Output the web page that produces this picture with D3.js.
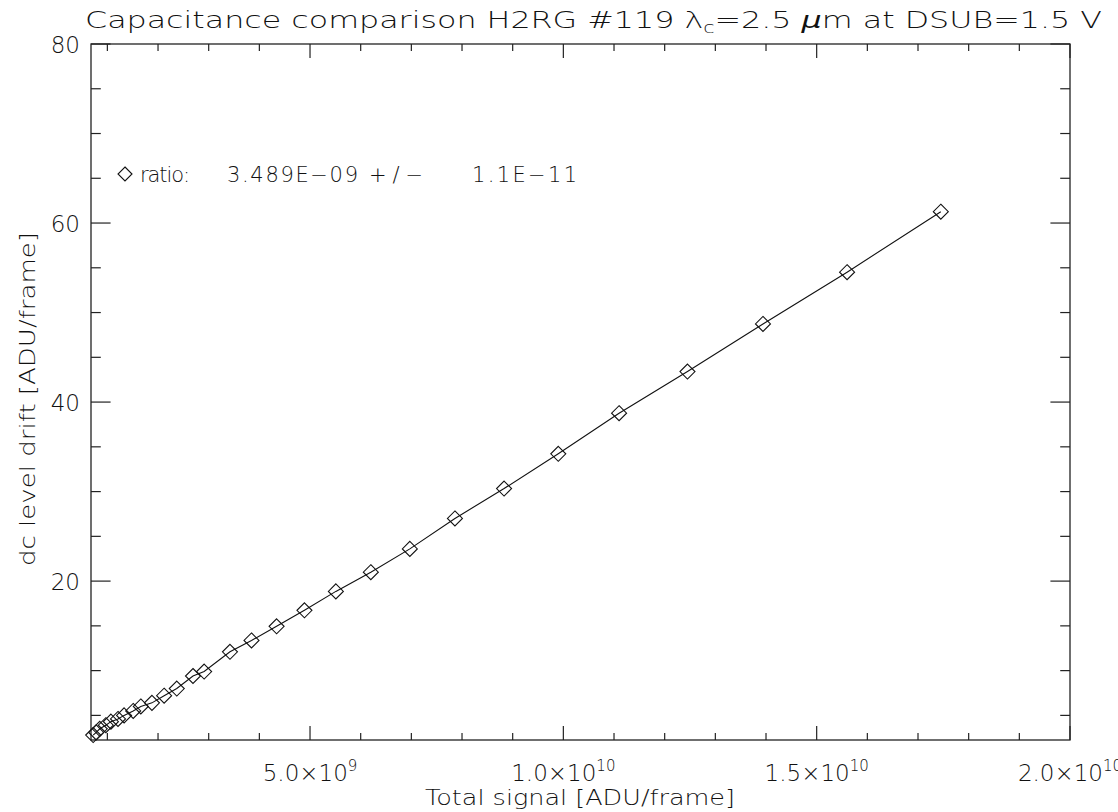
<!DOCTYPE html>
<html>
<head>
<meta charset="utf-8">
<script src="https://cdn.jsdelivr.net/npm/d3@7"></script>
<style>
  html, body { margin: 0; padding: 0; background: #fff; }
  svg { display: block; }
  text { font-family: "DejaVu Sans", Roboto, sans-serif; font-weight: 200; fill: #111; }
</style>
</head>
<body>
<svg id="chart" width="1118" height="812"></svg>
<script>
// Total signal per point [ADU/frame]
const totalSignal = [
  17.45e9, 15.60e9, 13.94e9, 12.45e9, 11.10e9, 9.90e9, 8.83e9, 7.86e9,
  6.97e9, 6.20e9, 5.51e9, 4.89e9, 4.34e9, 3.845e9, 3.42e9, 2.91e9,
  2.69e9, 2.37e9, 2.12e9, 1.88e9, 1.66e9, 1.51e9, 1.33e9, 1.21e9,
  1.07e9, 0.97e9, 0.85e9, 0.78e9, 0.72e9
];
// dc level drift per point [ADU/frame]
const dcDrift = [
  61.27, 54.51, 48.73, 43.41, 38.76, 34.22, 30.34, 27.0,
  23.6, 21.0, 18.85, 16.74, 14.95, 13.37, 12.1, 9.9,
  9.4, 8.0, 7.2, 6.4, 6.0, 5.5, 5.0, 4.6,
  4.3, 3.9, 3.5, 3.1, 2.8
];

const xRange = [0.677e9, 2.0e10];
const yRange = [2.25, 80];

const xMajorTicks = [5e9, 1e10, 1.5e10, 2e10];
const xMajorMantissa = ["5.0", "1.0", "1.5", "2.0"];
const xMajorExponent = ["9", "10", "10", "10"];
const xMinorTicks = [1e9, 2e9, 3e9, 4e9, 6e9, 7e9, 8e9, 9e9, 11e9, 12e9, 13e9, 14e9, 16e9, 17e9, 18e9, 19e9];

const yMajorTicks = [20, 40, 60, 80];
const yMinorTicks = [5, 10, 15, 25, 30, 35, 45, 50, 55, 65, 70, 75];

const ratioText = ["ratio:", "3.489E\u221209", "+/\u2212", "1.1E\u221211"];

const svg = d3.select("#chart");
const plot = { left: 91, right: 1070, top: 44, bottom: 740 };

const x = d3.scaleLinear().domain(xRange).range([plot.left, plot.right]);
const y = d3.scaleLinear().domain(yRange).range([plot.bottom, plot.top]);

const pw = plot.right - plot.left, ph = plot.bottom - plot.top;
const xTickLen = 0.02 * ph, yTickLen = 0.02 * pw;

// frame
svg.append("rect")
  .attr("x", plot.left).attr("y", plot.top)
  .attr("width", pw).attr("height", ph)
  .attr("fill", "none").attr("stroke", "#222").attr("stroke-width", 1.3);

const ticks = svg.append("g").attr("stroke", "#222").attr("stroke-width", 1.2);

// x ticks, bottom and top, pointing inward
function xTick(v, len) {
  ticks.append("line").attr("x1", x(v)).attr("x2", x(v))
    .attr("y1", plot.bottom).attr("y2", plot.bottom - len);
  ticks.append("line").attr("x1", x(v)).attr("x2", x(v))
    .attr("y1", plot.top).attr("y2", plot.top + len);
}
xMajorTicks.forEach(v => xTick(v, xTickLen));
xMinorTicks.forEach(v => xTick(v, xTickLen / 2));

// y ticks, left and right, pointing inward
function yTick(v, len) {
  ticks.append("line").attr("y1", y(v)).attr("y2", y(v))
    .attr("x1", plot.left).attr("x2", plot.left + len);
  ticks.append("line").attr("y1", y(v)).attr("y2", y(v))
    .attr("x1", plot.right).attr("x2", plot.right - len);
}
yMajorTicks.forEach(v => yTick(v, yTickLen));
yMinorTicks.forEach(v => yTick(v, yTickLen / 2));

// x tick labels in scientific notation
xMajorTicks.forEach((v, i) => {
  const t = svg.append("text")
    .attr("x", x(v)).attr("y", 781)
    .attr("text-anchor", "middle")
    .attr("font-size", 23);
  t.append("tspan").text(xMajorMantissa[i] + "\u00d710");
  t.append("tspan").attr("dy", -10).attr("font-size", 15).text(xMajorExponent[i]);
});

// y tick labels
yMajorTicks.forEach(v => {
  svg.append("text")
    .attr("x", 80).attr("y", y(v) + 8.5)
    .attr("text-anchor", "end")
    .attr("font-size", 23)
    .text(v);
});

// axis titles
svg.append("text")
  .attr("x", 425).attr("y", 805)
  .attr("font-size", 22)
  .attr("textLength", 310)
  .attr("lengthAdjust", "spacingAndGlyphs")
  .text("Total signal [ADU/frame]");

svg.append("text")
  .attr("transform", "translate(35,566) rotate(-90)")
  .attr("font-size", 22)
  .attr("textLength", 334)
  .attr("lengthAdjust", "spacingAndGlyphs")
  .text("dc level drift [ADU/frame]");

// title
const title = svg.append("text")
  .attr("x", 85).attr("y", 28)
  .attr("font-size", 23)
  .attr("textLength", 1017)
  .attr("lengthAdjust", "spacingAndGlyphs");
title.append("tspan").text("Capacitance comparison H2RG #119 \u03bb");
title.append("tspan").attr("dy", 5).attr("font-size", 15).text("c");
title.append("tspan").attr("dy", -5).text("=2.5 ");
title.append("tspan").attr("font-style", "italic").attr("font-weight", 300).text("\u03bc");
title.append("tspan").text("m at DSUB=1.5 V");

// data points joined by a line
const pts = totalSignal.map((v, i) => [v, dcDrift[i]]).sort((a, b) => a[0] - b[0]);

svg.append("path")
  .datum(pts)
  .attr("fill", "none")
  .attr("stroke", "#111")
  .attr("stroke-width", 1.1)
  .attr("d", d3.line().x(d => x(d[0])).y(d => y(d[1])));

const dsz = 7.5;
const diamond = (cx, cy) => `M${cx},${cy - dsz}L${cx + dsz},${cy}L${cx},${cy + dsz}L${cx - dsz},${cy}Z`;

svg.append("g")
  .selectAll("path")
  .data(pts)
  .join("path")
  .attr("d", d => diamond(x(d[0]), y(d[1])))
  .attr("fill", "none")
  .attr("stroke", "#111")
  .attr("stroke-width", 1.1);

// legend with fit ratio
const legY = 174;
svg.append("path")
  .attr("d", `M125,${legY - 7}L132,${legY}L125,${legY + 7}L118,${legY}Z`)
  .attr("fill", "none").attr("stroke", "#111").attr("stroke-width", 1.1);
const legX = [140, 227, 369, 472];
const legW = [50, 131, 54, 105];
ratioText.forEach((s, i) => {
  svg.append("text")
    .attr("x", legX[i]).attr("y", legY + 7.5)
    .attr("font-size", 21)
    .attr("textLength", legW[i])
    .attr("lengthAdjust", "spacing")
    .text(s);
});
</script>
</body>
</html>
